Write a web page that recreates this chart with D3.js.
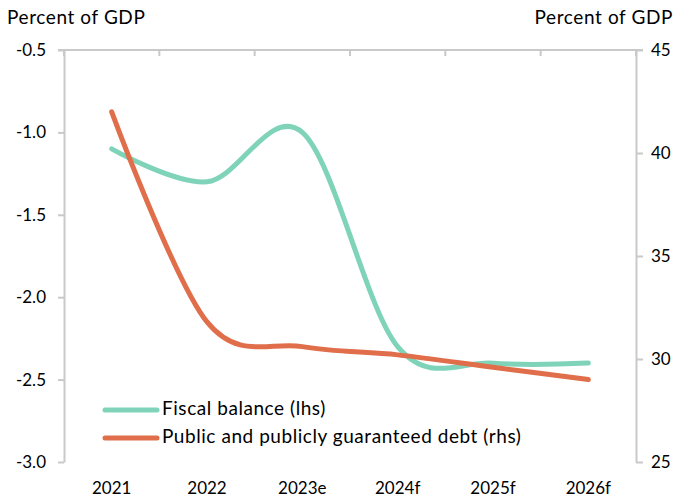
<!DOCTYPE html>
<html><head><meta charset="utf-8">
<script src="https://cdn.jsdelivr.net/npm/d3@7"></script>
<style>
body{margin:0;background:#fff;}
text{font-family:Lato,"Open Sans",sans-serif;fill:#000;}
</style></head>
<body><svg id="c" width="678" height="498"></svg>
<script>
const categories = ["2021","2022","2023e","2024f","2025f","2026f"];
const fiscalBalance = [-1.1,-1.3,-1.0,-2.3,-2.4,-2.4];
const debt = [42.0,31.8,30.6,30.2,29.6,29.0];
const leftTicks = [-3.0,-2.5,-2.0,-1.5,-1.0,-0.5];
const rightTicks = [25,30,35,40,45];
const seriesNames = ["Fiscal balance (lhs)","Public and publicly guaranteed debt (rhs)"];
const colors = ["#7fd3b9","#e06e4b"];
const axisColor = "#c9c9c9";

const svg = d3.select("#c");
const L=64, R=636, T=50, B=462;
const x = d3.scaleBand().domain(categories).range([L,R]);
const cx = c => x(c)+x.bandwidth()/2;
const yL = d3.scaleLinear().domain([-3,-0.5]).range([B,T]);
const yR = d3.scaleLinear().domain([25,45]).range([B,T]);

const gL = svg.append("g").attr("transform",`translate(${L},0)`)
  .call(d3.axisLeft(yL).tickValues(leftTicks).tickSize(6).tickSizeOuter(0).tickPadding(12).tickFormat(d=>d.toFixed(1)));
const gR = svg.append("g").attr("transform",`translate(${R},0)`)
  .call(d3.axisRight(yR).tickValues(rightTicks).tickSize(7).tickSizeOuter(0).tickPadding(8).tickFormat(d=>d));
[gL,gR].forEach(g=>{
  g.selectAll("path").attr("stroke",axisColor).attr("stroke-width",2);
  g.selectAll("line").attr("stroke",axisColor).attr("stroke-width",2);
  g.selectAll("text").style("font-size","17px").style("font-family","Lato,'Open Sans',sans-serif").attr("fill","#000");
});

svg.append("line").attr("x1",L-6).attr("x2",R+7).attr("y1",T).attr("y2",T)
  .attr("stroke",axisColor).attr("stroke-width",2);
const bounds = categories.map(c=>x(c)).concat([x(categories[categories.length-1])+x.bandwidth()]);
svg.selectAll(".ct").data(bounds).enter().append("line")
  .attr("x1",d=>d).attr("x2",d=>d).attr("y1",T).attr("y2",T+6)
  .attr("stroke",axisColor).attr("stroke-width",2);
svg.selectAll(".cl").data(categories).enter().append("text")
  .attr("x",d=>cx(d)).attr("y",490).attr("text-anchor","middle").attr("dominant-baseline","middle")
  .style("font-size","17px").text(d=>d);

svg.append("text").attr("x",7).attr("y",19).attr("dominant-baseline","middle").style("font-size","19px").style("letter-spacing","0.6px").text("Percent of GDP");
svg.append("text").attr("x",673).attr("y",19).attr("text-anchor","end").attr("dominant-baseline","middle").style("font-size","19px").style("letter-spacing","0.6px").text("Percent of GDP");

const curve = d3.curveCardinal.tension(0);
const lineL = d3.line().x((d,i)=>cx(categories[i])).y(d=>yL(d)).curve(curve);
const lineR = d3.line().x((d,i)=>cx(categories[i])).y(d=>yR(d)).curve(curve);
svg.append("path").attr("d",lineL(fiscalBalance)).attr("fill","none").attr("stroke",colors[0]).attr("stroke-width",5).attr("stroke-linecap","round");
svg.append("path").attr("d",lineR(debt)).attr("fill","none").attr("stroke",colors[1]).attr("stroke-width",5).attr("stroke-linecap","round");

const leg = svg.append("g");
[0,1].forEach(i=>{
  const yy = 410 + i*28;
  leg.append("line").attr("x1",105).attr("x2",157).attr("y1",yy).attr("y2",yy)
    .attr("stroke",colors[i]).attr("stroke-width",5).attr("stroke-linecap","round");
  leg.append("text").attr("x",162).attr("y",yy).attr("dominant-baseline","middle").style("font-size","19px").style("letter-spacing","0.55px").text(seriesNames[i]);
});
</script></body></html>
